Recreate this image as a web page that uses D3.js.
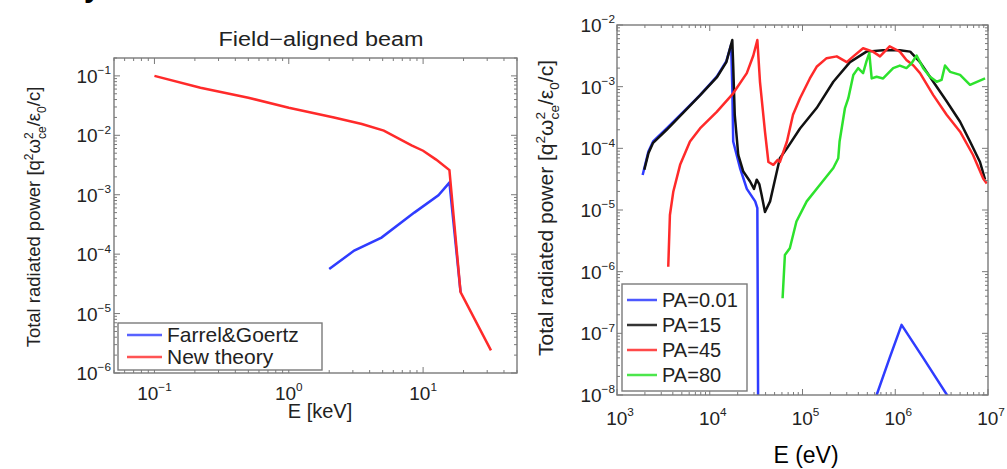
<!DOCTYPE html>
<html>
<head>
<meta charset="utf-8">
<script src="https://cdn.jsdelivr.net/npm/d3@7"></script>
<style>
  body { margin: 0; background: #fff; }
  svg { display: block; font-family: "Liberation Sans", Arial, sans-serif; }
</style>
</head>
<body>
<div id="svg-area"></div>
<script>
var svgWidth = 1007;
var svgHeight = 469;

// ---- left panel data (E in keV) ----
var fgE = [2, 3.07, 4.9, 8.6, 13, 15.7, 19];
var fgP = [5.6e-5, 1.15e-4, 1.9e-4, 5e-4, 9.8e-4, 1.6e-3, 2.3e-5];
var ntE = [0.1, 0.22, 0.5, 1, 2.17, 3.5, 5.1, 8.2, 10, 12.5, 15.7, 19, 32];
var ntP = [0.1, 0.063, 0.043, 0.029, 0.02, 0.0155, 0.012, 0.0068, 0.0055, 0.0039, 0.0026, 2.3e-5, 2.4e-6];

// ---- right panel data (E in eV) ----
var pa001E = [1.89e3, 2.18e3, 2.45e3, 3.43e3, 5.19e3, 7.85e3, 1.19e4, 1.51e4, 1.7e4, 1.75e4, 1.79e4, 2.12e4, 2.51e4, 3.09e4, 3.26e4, 3.34e4, 5e5, 6.3e5, 8.7e5, 1.17e6, 2.0e6, 4.0e6];
var pa001P = [3.7e-5, 8.9e-5, 1.29e-4, 2.1e-4, 3.9e-4, 7.3e-4, 1.45e-3, 2.6e-3, 4.8e-3, 1.0e-3, 1.29e-4, 4.8e-5, 2.2e-5, 1.38e-5, 1.07e-5, 1e-9, 1e-9, 1.0e-8, 4e-8, 1.37e-7, 4e-8, 7.9e-9];

var pa15E = [1.97e3, 2.18e3, 2.45e3, 3.43e3, 5.19e3, 7.85e3, 1.19e4, 1.51e4, 1.75e4, 1.79e4, 1.86e4, 2.03e4, 2.3e4, 2.72e4, 3.0e4, 3.21e4, 3.43e4, 3.63e4, 3.94e4, 4.47e4, 5.0e4, 5.7e4, 6.8e4, 9.4e4, 1.42e5, 2.15e5, 3.25e5, 4.9e5, 7.4e5, 1.12e6, 1.45e6, 1.85e6, 2.57e6, 3.58e6, 5.0e6, 6.4e6, 8.2e6, 9.3e6];
var pa15P = [4.5e-5, 8.3e-5, 1.23e-4, 2.0e-4, 3.8e-4, 7.2e-4, 1.41e-3, 2.5e-3, 5.7e-3, 2.2e-3, 3.5e-4, 7.8e-5, 4.2e-5, 2.9e-5, 2.2e-5, 3.1e-5, 2.6e-5, 1.74e-5, 9.3e-6, 1.38e-5, 2.9e-5, 6.9e-5, 1.0e-4, 2.1e-4, 4.5e-4, 1.2e-3, 2.5e-3, 3.7e-3, 3.9e-3, 3.9e-3, 3.7e-3, 2.5e-3, 1.2e-3, 5.8e-4, 2.7e-4, 1.29e-4, 6.0e-5, 3.1e-5];

var pa45E = [3.57e3, 3.72e3, 4.05e3, 4.79e3, 6.12e3, 7.85e3, 1.19e4, 1.79e4, 2.51e4, 2.95e4, 3.26e4, 3.48e4, 3.94e4, 4.29e4, 4.85e4, 5.4e4, 5.7e4, 6.8e4, 7.9e4, 9.4e4, 1.2e5, 1.42e5, 1.82e5, 2.34e5, 3.0e5, 3.53e5, 4.5e5, 5.75e5, 6.85e5, 8.7e5, 1.12e6, 1.32e6, 1.57e6, 1.85e6, 2.57e6, 3.58e6, 5.0e6, 6.9e6, 8.9e6, 9.7e6];
var pa45P = [1.2e-6, 8.3e-6, 2.0e-5, 5.4e-5, 1.29e-4, 2.1e-4, 3.9e-4, 7.8e-4, 1.66e-3, 3.2e-3, 5.7e-3, 1.2e-3, 1.86e-4, 6.0e-5, 5.4e-5, 6.5e-5, 6.0e-5, 1.29e-4, 3.5e-4, 6.5e-4, 1.36e-3, 2.1e-3, 2.9e-3, 3.1e-3, 2.5e-3, 3.1e-3, 4.2e-3, 3.7e-3, 3.1e-3, 4.5e-3, 3.7e-3, 2.7e-3, 2.2e-3, 1.66e-3, 7.3e-4, 3.5e-4, 1.86e-4, 7.8e-5, 3.2e-5, 2.7e-5];

var pa80E = [6.1e4, 6.46e4, 7.3e4, 8.6e4, 1.11e5, 1.55e5, 2.15e5, 2.43e5, 2.51e5, 2.87e5, 3.12e5, 3.53e5, 3.98e5, 4.5e5, 4.9e5, 5.25e5, 5.57e5, 6.3e5, 7.4e5, 9.5e5, 1.12e6, 1.32e6, 1.5e6, 1.7e6, 2.0e6, 2.37e6, 2.8e6, 3.16e6, 3.44e6, 3.9e6, 5.0e6, 6.4e6, 7.6e6, 9.3e6];
var pa80P = [3.7e-7, 1.86e-6, 2.4e-6, 6.5e-6, 1.38e-5, 2.6e-5, 4.8e-5, 6.9e-5, 1.29e-4, 4.5e-4, 6.5e-4, 1.55e-3, 2.0e-3, 1.66e-3, 2.6e-3, 3.5e-3, 1.36e-3, 1.45e-3, 1.36e-3, 2.0e-3, 2.2e-3, 2.0e-3, 2.4e-3, 3.2e-3, 2.0e-3, 1.45e-3, 1.2e-3, 1.29e-3, 2.2e-3, 1.74e-3, 1.55e-3, 1.07e-3, 1.2e-3, 1.36e-3];

var leftNames = ["Farrel&Goertz", "New theory"];
var rightNames = ["PA=0.01", "PA=15", "PA=45", "PA=80"];
var blue = "#2f3cff", red = "#ff2a2a", black = "#111", green = "#2de22d";

var svg = d3.select("#svg-area")
  .append("svg")
  .attr("width", svgWidth)
  .attr("height", svgHeight);

// matlab style box with inward ticks on all four sides
function drawAxes(g, x, y) {
  var xr = x.range(), yr = y.range();
  var isMajor = function(v) { return Math.abs(Math.log10(v) - Math.round(Math.log10(v))) < 1e-6; };
  var ax = "#7a7a7a";
  x.ticks().forEach(function(v) {
    var len = isMajor(v) ? 6 : 3;
    var px = x(v);
    if (px < xr[0] - 0.5 || px > xr[1] + 0.5) return;
    g.append("line").attr("x1", px).attr("x2", px).attr("y1", yr[0]).attr("y2", yr[0] - len).attr("stroke", ax);
    g.append("line").attr("x1", px).attr("x2", px).attr("y1", yr[1]).attr("y2", yr[1] + len).attr("stroke", ax);
  });
  y.ticks().forEach(function(v) {
    var len = isMajor(v) ? 6 : 3;
    var py = y(v);
    if (py > yr[0] + 0.5 || py < yr[1] - 0.5) return;
    g.append("line").attr("y1", py).attr("y2", py).attr("x1", xr[0]).attr("x2", xr[0] + len).attr("stroke", ax);
    g.append("line").attr("y1", py).attr("y2", py).attr("x1", xr[1]).attr("x2", xr[1] - len).attr("stroke", ax);
  });
  g.append("rect")
    .attr("x", xr[0]).attr("y", yr[1])
    .attr("width", xr[1] - xr[0]).attr("height", yr[0] - yr[1])
    .attr("fill", "none").attr("stroke", ax).attr("stroke-width", 1.4);
}

function powLabel(g, px, py, exp, size, anchor) {
  var t = g.append("text")
    .attr("x", px).attr("y", py)
    .attr("text-anchor", anchor)
    .attr("font-size", size)
    .attr("fill", "#222");
  t.append("tspan").text("10");
  t.append("tspan").attr("dy", -size * 0.45).attr("font-size", size * 0.62)
    .text(exp < 0 ? "\u2212" + (-exp) : exp);
}

function yTitle(g, px, py, size) {
  var t = g.append("text")
    .attr("transform", "translate(" + px + "," + py + ") rotate(-90)")
    .attr("text-anchor", "middle")
    .attr("font-size", size)
    .attr("fill", "#222");
  var s = size * 0.65;
  t.append("tspan").text("Total radiated power [q");
  t.append("tspan").attr("font-size", s).attr("dy", -size * 0.4).text("2");
  t.append("tspan").attr("dy", size * 0.4).text("\u03c9");
  t.append("tspan").attr("font-size", s).attr("dy", -size * 0.4).text("2");
  t.append("tspan").attr("font-size", s).attr("dx", -s * 0.55).attr("dy", size * 0.7).text("ce");
  t.append("tspan").attr("dy", -size * 0.3).text("/\u03b5");
  t.append("tspan").attr("font-size", s).attr("dy", size * 0.3).text("0");
  t.append("tspan").attr("dy", -size * 0.3).text("/c]");
}

// ================= left panel =================
var xL = d3.scaleLog().domain([0.05, 50]).range([114, 517]);
var yL = d3.scaleLog().domain([1e-6, 0.2]).range([373, 58]);
var gL = svg.append("g");

gL.append("clipPath").attr("id", "clipL").append("rect")
  .attr("x", 114).attr("y", 58).attr("width", 403).attr("height", 315);

var lineL = d3.line().x(d => xL(d[0])).y(d => yL(d[1]));
gL.append("path")
  .attr("clip-path", "url(#clipL)")
  .attr("fill", "none").attr("stroke", blue).attr("stroke-width", 2.5)
  .attr("d", lineL(d3.zip(fgE, fgP)));
gL.append("path")
  .attr("clip-path", "url(#clipL)")
  .attr("fill", "none").attr("stroke", red).attr("stroke-width", 2.5)
  .attr("d", lineL(d3.zip(ntE, ntP)));

drawAxes(gL, xL, yL);

[-1, -2, -3, -4, -5, -6].forEach(function(e) {
  powLabel(gL, 111, yL(Math.pow(10, e)) + 7, e, 19, "end");
});
[-1, 0, 1].forEach(function(e) {
  powLabel(gL, xL(Math.pow(10, e)), 400, e, 19, "middle");
});

gL.append("text")
  .attr("x", 321).attr("y", 46)
  .attr("text-anchor", "middle")
  .attr("font-size", 20).attr("fill", "#222")
  .attr("textLength", 205).attr("lengthAdjust", "spacingAndGlyphs")
  .text("Field\u2212aligned beam");

gL.append("text")
  .attr("x", 320).attr("y", 418)
  .attr("text-anchor", "middle")
  .attr("font-size", 20).attr("fill", "#222")
  .text("E [keV]");

yTitle(gL, 40, 217, 18.5);

// legend
var legL = gL.append("g");
legL.append("rect").attr("x", 118).attr("y", 323).attr("width", 204).attr("height", 47)
  .attr("fill", "#fff").attr("stroke", "#7a7a7a").attr("stroke-width", 1.4);
[blue, red].forEach(function(c, i) {
  var cy = 335 + i * 22;
  legL.append("line").attr("x1", 127).attr("x2", 162).attr("y1", cy).attr("y2", cy)
    .attr("stroke", c).attr("stroke-width", 2.5).attr("opacity", 0.8);
  legL.append("text").attr("x", 167).attr("y", cy + 7)
    .attr("font-size", 21).attr("fill", "#222").text(leftNames[i]);
});

// bit of a heading cut off at the top
svg.append("text").attr("x", 84).attr("y", -3)
  .attr("font-size", 30).attr("font-weight", "bold").text("y");

// ================= right panel =================
var xR = d3.scaleLog().domain([1e3, 1e7]).range([617, 988]);
var yR = d3.scaleLog().domain([1e-8, 1e-2]).range([395, 25]);
var gR = svg.append("g");

gR.append("clipPath").attr("id", "clipR").append("rect")
  .attr("x", 617).attr("y", 25).attr("width", 371).attr("height", 370);

var lineR = d3.line().x(d => xR(d[0])).y(d => yR(d[1]));
var seriesR = [
  [pa001E, pa001P, blue],
  [pa15E, pa15P, black],
  [pa45E, pa45P, red],
  [pa80E, pa80P, green]
];
seriesR.forEach(function(s) {
  gR.append("path")
    .attr("clip-path", "url(#clipR)")
    .attr("fill", "none").attr("stroke", s[2]).attr("stroke-width", 2.5)
    .attr("stroke-linejoin", "round")
    .attr("d", lineR(d3.zip(s[0], s[1])));
});

drawAxes(gR, xR, yR);

[-2, -3, -4, -5, -6, -7, -8].forEach(function(e) {
  powLabel(gR, 615, yR(Math.pow(10, e)) + 7, e, 19, "end");
});
[3, 4, 5, 6, 7].forEach(function(e) {
  powLabel(gR, xR(Math.pow(10, e)) + 3, 425, e, 19, "middle");
});

yTitle(gR, 553, 208, 21);

gR.append("text")
  .attr("x", 806).attr("y", 463)
  .attr("text-anchor", "middle")
  .attr("font-size", 23).attr("fill", "#000")
  .text("E (eV)");

// legend
var legR = gR.append("g");
legR.append("rect").attr("x", 622).attr("y", 284).attr("width", 125).attr("height", 107)
  .attr("fill", "#fff").attr("stroke", "#7a7a7a").attr("stroke-width", 1.4);
seriesR.forEach(function(s, i) {
  var cy = 300 + i * 25;
  legR.append("line").attr("x1", 627).attr("x2", 657).attr("y1", cy).attr("y2", cy)
    .attr("stroke", s[2]).attr("stroke-width", 2.5).attr("opacity", 0.85);
  legR.append("text").attr("x", 662).attr("y", cy + 7)
    .attr("font-size", 20).attr("fill", "#222").text(rightNames[i]);
});
</script>
</body>
</html>
